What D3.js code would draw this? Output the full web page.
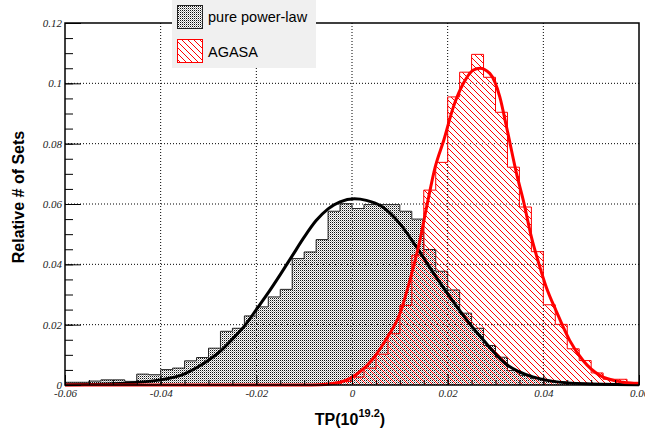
<!DOCTYPE html>
<html>
<head>
<meta charset="utf-8">
<script src="https://cdn.jsdelivr.net/npm/d3@7/dist/d3.min.js"></script>
<style>
  body { margin: 0; background: white; }
  svg { display: block; }
</style>
</head>
<body>
<div id="chart"></div>
<script>
var WIDTH = 645, HEIGHT = 429
var FRAME = {LEFT: 65, RIGHT: 639, TOP: 23, BOTTOM: 385}

// 48 bins of width 0.0025 starting at -0.06
var BIN_START = -0.06, BIN_WIDTH = 0.0025

var powerLawBins = [
  0.0009, 0.0009, 0.0013, 0.0017, 0.0017, 0.0012, 0.0036, 0.0034,
  0.0051, 0.0056, 0.0080, 0.0091, 0.0122, 0.0178, 0.0188, 0.0229,
  0.0259, 0.0292, 0.0317, 0.0419, 0.0441, 0.0482, 0.0576, 0.0601,
  0.0585, 0.0598, 0.0598, 0.0598, 0.0576, 0.0550, 0.0449, 0.0377,
  0.0315, 0.0238, 0.0188, 0.0131, 0.0092, 0.0048, 0.0032, 0.0021,
  0.0015, 0.0010, 0.0006, 0.0003, 0.0002, 0.0001, 0, 0
]

var agasaBins = [
  0, 0, 0, 0, 0, 0, 0, 0,
  0, 0, 0, 0, 0, 0, 0, 0,
  0, 0, 0, 0, 0, 0.0002, 0.0005, 0.0012,
  0.0026, 0.0056, 0.0102, 0.0170, 0.0264, 0.0430, 0.0646, 0.0738,
  0.0955, 0.1037, 0.1096, 0.1020, 0.0904, 0.0722, 0.0590, 0.0442,
  0.0266, 0.0201, 0.0120, 0.0081, 0.0040, 0.0019, 0.0019, 0.0009
]

// fitted curves
var powerLawFit = [
  [-0.06, 0.0001], [-0.05, 0.0004], [-0.04, 0.0017], [-0.035, 0.0037],
  [-0.0325, 0.0057], [-0.03, 0.0082], [-0.0275, 0.0112], [-0.025, 0.0152],
  [-0.0225, 0.0195], [-0.02, 0.0250], [-0.0175, 0.0306], [-0.015, 0.0366],
  [-0.0125, 0.0428], [-0.01, 0.0490], [-0.0075, 0.0545], [-0.005, 0.0584],
  [-0.0025, 0.0607], [0.0005, 0.0617], [0.003, 0.0612], [0.006, 0.0594],
  [0.01, 0.0535], [0.0135, 0.0457], [0.0175, 0.0360], [0.021, 0.0280],
  [0.024, 0.0215], [0.0275, 0.0148], [0.032, 0.0072], [0.038, 0.0026],
  [0.042, 0.0012], [0.049, 0.0004], [0.06, 0.0001]
]

var agasaFit = [
  [-0.06, 0], [-0.01, 0], [-0.0067, 0.0001], [-0.0025, 0.0009],
  [0.0016, 0.0043], [0.0044, 0.0087], [0.0072, 0.0153], [0.01, 0.0236],
  [0.0121, 0.0347], [0.0142, 0.0480], [0.0156, 0.0590], [0.0174, 0.0723],
  [0.0192, 0.0812], [0.0212, 0.0922], [0.0233, 0.1000], [0.0254, 0.1044],
  [0.0267, 0.1050], [0.0288, 0.1033], [0.0309, 0.0955], [0.0323, 0.0856],
  [0.0344, 0.0701], [0.0358, 0.0613], [0.0375, 0.0491], [0.0392, 0.0395],
  [0.0406, 0.0325], [0.0427, 0.0245], [0.0455, 0.0148], [0.0483, 0.0081],
  [0.0518, 0.0032], [0.0567, 0.0009], [0.06, 0.0004]
]

var xTicks = [-0.06, -0.04, -0.02, 0, 0.02, 0.04, 0.06]
var xTickLabels = ["-0.06", "-0.04", "-0.02", "0", "0.02", "0.04", "0.06"]
var yTicks = [0, 0.02, 0.04, 0.06, 0.08, 0.1, 0.12]
var yTickLabels = ["0", "0.02", "0.04", "0.06", "0.08", "0.1", "0.12"]
var legendNames = ["pure power-law", "AGASA"]

var x = d3.scaleLinear().domain([-0.06, 0.06]).range([FRAME.LEFT, FRAME.RIGHT])
var y = d3.scaleLinear().domain([0, 0.12]).range([FRAME.BOTTOM, FRAME.TOP])

const svg = d3.select("#chart").append("svg")
  .attr("width", WIDTH)
  .attr("height", HEIGHT)

svg.append("rect").attr("width", WIDTH).attr("height", HEIGHT).style("fill", "white")

// fill patterns: dotted grey and red hatch
var defs = svg.append("defs")
var dots = defs.append("pattern")
  .attr("id", "dots")
  .attr("patternUnits", "userSpaceOnUse")
  .attr("width", 2).attr("height", 2)
dots.append("rect").attr("x", 0).attr("y", 0).attr("width", 1).attr("height", 1).style("fill", "#111")
dots.append("rect").attr("x", 1).attr("y", 1).attr("width", 1).attr("height", 1).style("fill", "#aaa")

var hatch = defs.append("pattern")
  .attr("id", "hatch")
  .attr("patternUnits", "userSpaceOnUse")
  .attr("width", 6).attr("height", 6)
hatch.append("path")
  .attr("d", "M-1,-1 L7,7 M-1,5 L1,7 M5,-1 L7,1")
  .style("stroke", "#ff0000")
  .style("stroke-width", 1)

defs.append("clipPath").attr("id", "frameclip")
  .append("rect")
  .attr("x", FRAME.LEFT).attr("y", FRAME.TOP - 2)
  .attr("width", FRAME.RIGHT - FRAME.LEFT).attr("height", FRAME.BOTTOM - FRAME.TOP + 4)

// grid
var grid = svg.append("g")
grid.selectAll("vgrid")
  .data(xTicks.slice(1, -1))
  .enter()
  .append("line")
  .attr("x1", function(d){ return x(d) }).attr("x2", function(d){ return x(d) })
  .attr("y1", FRAME.TOP).attr("y2", FRAME.BOTTOM)
  .style("stroke", "black").style("stroke-dasharray", "1,2")
grid.selectAll("hgrid")
  .data(yTicks.slice(1, -1))
  .enter()
  .append("line")
  .attr("x1", FRAME.LEFT).attr("x2", FRAME.RIGHT)
  .attr("y1", function(d){ return y(d) }).attr("y2", function(d){ return y(d) })
  .style("stroke", "black").style("stroke-dasharray", "1,2")

// turn bin contents into step points, closed down to zero at both ends
function stepPoints(bins){
  var pts = [[BIN_START, 0]]
  bins.forEach(function(v, i){ pts.push([BIN_START + i*BIN_WIDTH, v]) })
  pts.push([BIN_START + bins.length*BIN_WIDTH, bins[bins.length-1]])
  pts.push([BIN_START + bins.length*BIN_WIDTH, 0])
  return pts
}

var area = d3.area()
  .curve(d3.curveStepAfter)
  .x(function(d){ return x(d[0]) })
  .y0(y(0))
  .y1(function(d){ return y(d[1]) })

var step = d3.line()
  .curve(d3.curveStepAfter)
  .x(function(d){ return x(d[0]) })
  .y(function(d){ return y(d[1]) })

var plot = svg.append("g").attr("clip-path", "url(#frameclip)")

plot.append("path")
  .attr("d", area(stepPoints(powerLawBins)))
  .style("fill", "url(#dots)")
plot.append("path")
  .attr("d", step(stepPoints(powerLawBins)))
  .style("fill", "none").style("stroke", "#222").style("stroke-width", 1)

plot.append("path")
  .attr("d", area(stepPoints(agasaBins)))
  .style("fill", "url(#hatch)")
plot.append("path")
  .attr("d", step(stepPoints(agasaBins)))
  .style("fill", "none").style("stroke", "#ff0000").style("stroke-width", 1)

var fitLine = d3.line()
  .curve(d3.curveMonotoneX)
  .x(function(d){ return x(d[0]) })
  .y(function(d){ return y(d[1]) })

plot.append("path")
  .attr("d", fitLine(powerLawFit))
  .style("fill", "none").style("stroke", "black").style("stroke-width", 3)
plot.append("path")
  .attr("d", fitLine(agasaFit))
  .style("fill", "none").style("stroke", "#ff0000").style("stroke-width", 3)

// frame
svg.append("rect")
  .attr("x", FRAME.LEFT).attr("y", FRAME.TOP)
  .attr("width", FRAME.RIGHT - FRAME.LEFT).attr("height", FRAME.BOTTOM - FRAME.TOP)
  .style("fill", "none").style("stroke", "black").style("stroke-width", 1.5)

// axes, ticks pointing inwards
function styleAxis(g){
  g.select(".domain").remove()
  g.selectAll("line").style("stroke", "black")
  g.selectAll("text")
    .style("font-family", "'Liberation Serif', serif")
    .style("font-style", "italic")
    .style("font-size", "11px")
    .style("fill", "#222")
}

svg.append("g")
  .attr("transform", `translate(0, ${FRAME.BOTTOM})`)
  .call(d3.axisBottom(x).ticks(24).tickFormat("").tickSizeInner(-5).tickSizeOuter(0))
  .call(styleAxis)
svg.append("g")
  .attr("transform", `translate(0, ${FRAME.BOTTOM})`)
  .call(d3.axisBottom(x).tickValues(xTicks).tickFormat(function(d, i){ return xTickLabels[i] })
    .tickSizeInner(-10).tickSizeOuter(0).tickPadding(4))
  .call(styleAxis)

svg.append("g")
  .attr("transform", `translate(${FRAME.LEFT}, 0)`)
  .call(d3.axisLeft(y).ticks(24).tickFormat("").tickSizeInner(-8).tickSizeOuter(0))
  .call(styleAxis)
svg.append("g")
  .attr("transform", `translate(${FRAME.LEFT}, 0)`)
  .call(d3.axisLeft(y).tickValues(yTicks).tickFormat(function(d, i){ return yTickLabels[i] })
    .tickSizeInner(-16).tickSizeOuter(0).tickPadding(3))
  .call(styleAxis)

// axis titles
svg.append("text")
  .attr("transform", "translate(24, 197) rotate(-90)")
  .attr("text-anchor", "middle")
  .style("font-family", "'Liberation Sans', Arial, sans-serif")
  .style("font-weight", "bold")
  .style("font-size", "16px")
  .text("Relative # of Sets")

var xTitle = svg.append("text")
  .attr("x", 350).attr("y", 425)
  .attr("text-anchor", "middle")
  .style("font-family", "'Liberation Sans', Arial, sans-serif")
  .style("font-weight", "bold")
  .style("font-size", "16px")
xTitle.append("tspan").text("TP(10")
xTitle.append("tspan").attr("dy", -8).style("font-size", "11px").text("19.2")
xTitle.append("tspan").attr("dy", 8).text(")")

// legend
var legend = svg.append("g").attr("transform", "translate(172, 0)")
legend.append("rect")
  .attr("width", 144).attr("height", 68)
  .style("fill", "#f0f0f0")

legend.selectAll("swatch")
  .data(legendNames)
  .enter()
  .append("rect")
  .attr("x", 5.5).attr("y", function(d, i){ return 5.5 + i*34 })
  .attr("width", 25).attr("height", 23)
  .style("fill", "white")

legend.selectAll("swatchfill")
  .data(legendNames)
  .enter()
  .append("rect")
  .attr("x", 5.5).attr("y", function(d, i){ return 5.5 + i*34 })
  .attr("width", 25).attr("height", 23)
  .style("fill", function(d, i){ return i == 0 ? "url(#dots)" : "url(#hatch)" })
  .style("stroke", function(d, i){ return i == 0 ? "#222" : "#ff0000" })

legend.selectAll("labels")
  .data(legendNames)
  .enter()
  .append("text")
  .attr("x", 36).attr("y", function(d, i){ return 21.5 + i*35 })
  .style("font-family", "'Liberation Sans', Arial, sans-serif")
  .style("font-size", "14.5px")
  .style("fill", "black")
  .text(function(d){ return d })
</script>
</body>
</html>
